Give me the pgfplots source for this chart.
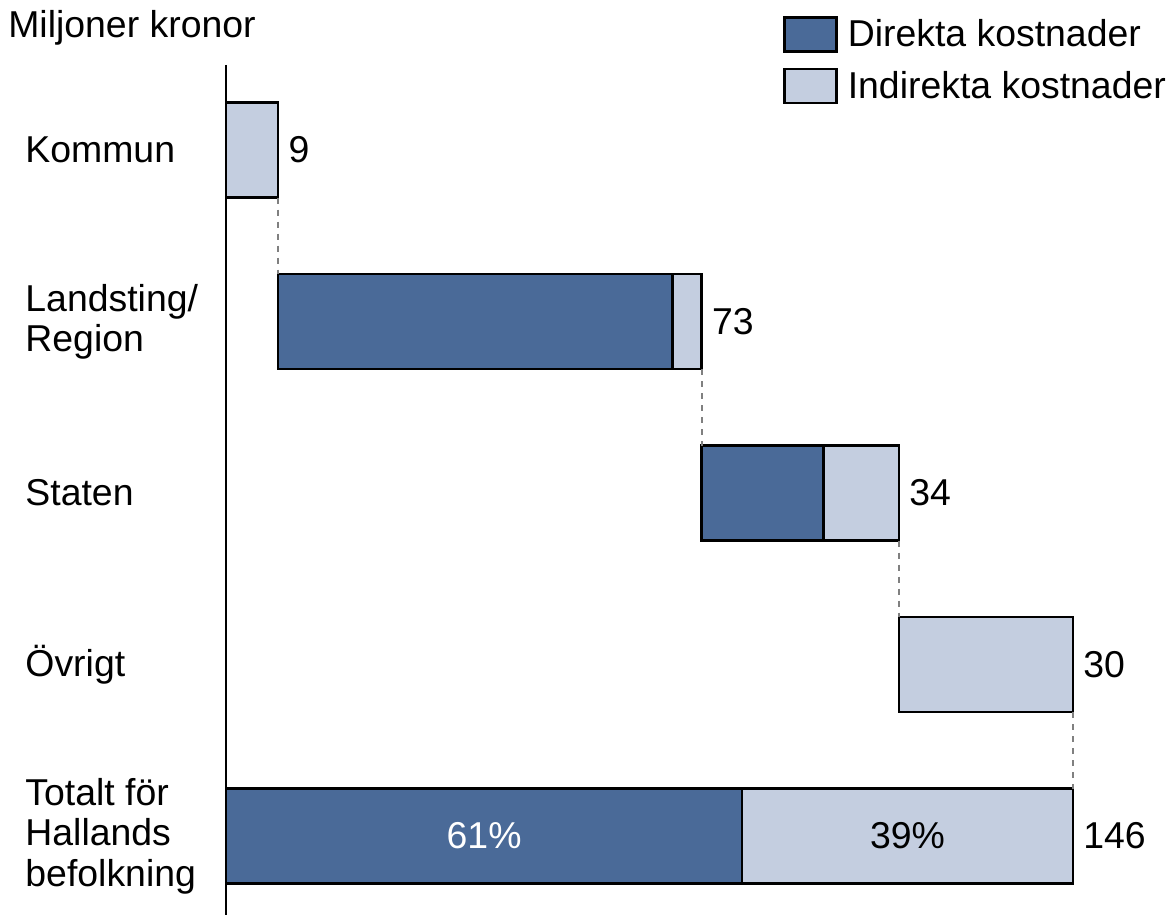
\documentclass[border=0pt]{standalone}
\usepackage{pgfplots}
\pgfplotsset{compat=1.18}
\usepackage{fontspec}
\setmainfont{Liberation Sans}
\definecolor{dirc}{RGB}{74,106,152}
\definecolor{indc}{RGB}{196,206,224}
\begin{document}
\begin{tikzpicture}[font=\fontsize{18.7}{20.2}\selectfont]
\pgfplotsset{common/.style={scale only axis, width=584.5pt, height=458.5pt,
  xmin=-38.97, xmax=162.59, ymin=-0.472, ymax=4.875, hide axis, clip=false}}
\begin{axis}[common,
  xbar stacked, bar width=47.5pt,
  legend style={at={(0.6698,0.9825)}, anchor=north west, draw=none, fill=none,
    inner sep=0pt, row sep=7.5pt, column sep=5pt,
    nodes={inner sep=0pt, anchor=west}},
  legend cell align=left,
  legend image code/.code={\draw[#1] (0pt,-8.5pt) rectangle (26pt,8.5pt);}
]
\path (rel axis cs:0,0) rectangle (rel axis cs:1,1);
\addplot[draw=none, fill=none, forget plot] coordinates {(0,4) (9,3) (82,2) (116,1) (0,0)};
\addplot[fill=dirc, draw=black, line width=1.2pt] coordinates {(0,4) (68,3) (21,2) (0,1) (89,0)};
\addplot[fill=indc, draw=black, line width=1.2pt] coordinates {(9,4) (5,3) (13,2) (30,1) (57,0)};
\legend{Direkta kostnader, Indirekta kostnader}
\end{axis}
\begin{axis}[common]
\addplot[black, line width=1.2pt, no marks] coordinates {(0,4.496) (0,-0.461)};
\addplot[black!50, dashed, line width=0.9pt, no marks, unbounded coords=jump] coordinates {
(9,3.723) (9,3.277) (nan,nan)
(82,2.723) (82,2.277) (nan,nan)
(116,1.723) (116,1.277) (nan,nan)
(146,0.723) (146,0.277)};
\node[anchor=west, xshift=1.7pt] at (axis cs:9,4) {9};
\node[anchor=west, xshift=1.7pt] at (axis cs:82,3) {73};
\node[anchor=west, xshift=1.7pt] at (axis cs:116,2) {34};
\node[anchor=west, xshift=1.7pt] at (axis cs:146,1) {30};
\node[anchor=west, xshift=1.7pt] at (axis cs:146,0) {146};
\node[text=white] at (axis cs:44.5,0) {61\%};
\node at (axis cs:117.5,0) {39\%};
\node[anchor=west, align=left] at (axis cs:-35.8,4) {Kommun};
\node[anchor=west, align=left] at (axis cs:-35.8,3) {Landsting/\\Region};
\node[anchor=west, align=left] at (axis cs:-35.8,2) {Staten};
\node[anchor=west, align=left] at (axis cs:-35.8,1) {Övrigt};
\node[anchor=west, align=left] at (axis cs:-35.8,0) {Totalt för\\Hallands\\befolkning};
\node[anchor=west] at (axis cs:-38.75,4.71) {Miljoner kronor};
\end{axis}
\end{tikzpicture}
\end{document}
